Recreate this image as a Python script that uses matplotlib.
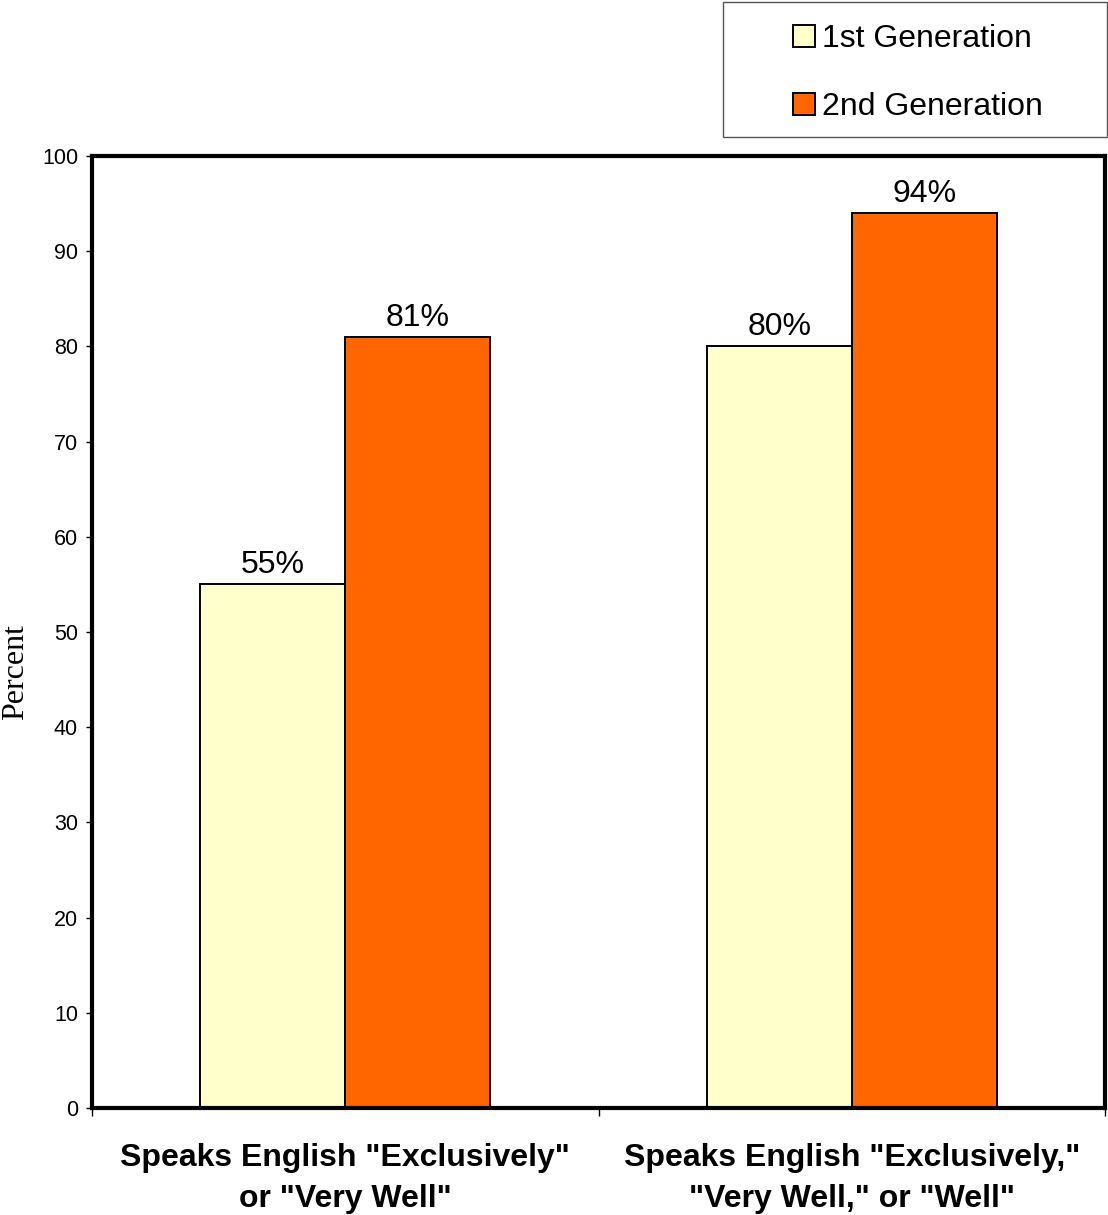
import matplotlib
matplotlib.use("Agg")
import matplotlib.pyplot as plt
from matplotlib.patches import Rectangle
import numpy as np

categories = ['Speaks English "Exclusively"\nor "Very Well"',
              'Speaks English "Exclusively,"\n"Very Well," or "Well"']
series_names = ["1st Generation", "2nd Generation"]
first_gen = [55, 80]
second_gen = [81, 94]
value_labels_first = ["55%", "80%"]
value_labels_second = ["81%", "94%"]
colors = ["#FFFFCC", "#FF6600"]

W, H = 1108, 1215
fig = plt.figure(figsize=(W / 100, H / 100), dpi=100)
plt.rcParams["font.family"] = ["Liberation Sans", "DejaVu Sans"]

left, right, top, bottom = 92, 1105, 156, 1108
ax = fig.add_axes([left / W, 1 - bottom / H, (right - left) / W, (bottom - top) / H])

x = np.arange(len(categories))
bw = 0.286
b1 = ax.bar(x - bw / 2, first_gen, bw, color=colors[0], edgecolor="black",
            linewidth=1.4, label=series_names[0], zorder=2)
b2 = ax.bar(x + bw / 2, second_gen, bw, color=colors[1], edgecolor="black",
            linewidth=1.4, label=series_names[1], zorder=2)

for bars, labels in ((b1, value_labels_first), (b2, value_labels_second)):
    for rect, lab in zip(bars, labels):
        ax.annotate(lab, (rect.get_x() + rect.get_width() / 2, rect.get_height()),
                    xytext=(0, 8), textcoords="offset points",
                    ha="center", va="baseline", fontsize=23)

ax.set_xlim(-0.5, len(categories) - 0.5)
ax.set_ylim(0, 100)
ax.set_yticks(np.arange(0, 101, 10))
ax.tick_params(axis="y", direction="out", length=4, width=1, labelsize=15.5, pad=6)

# category labels at group centres, tick marks at group boundaries
ax.set_xticks(x)
ax.set_xticklabels(categories, fontsize=23, fontweight="bold", linespacing=1.5)
ax.tick_params(axis="x", which="major", length=0, pad=25)
ax.set_xticks(np.arange(-0.5, len(categories)), minor=True)
ax.tick_params(axis="x", which="minor", direction="out", length=6, width=1)

for s in ax.spines.values():
    s.set_linewidth(3)
    s.set_color("black")

fig.text(16 / W, 1 - 672 / H, "Percent", rotation=90, ha="center", va="center",
         fontsize=23, family=["Liberation Serif", "DejaVu Serif"])

# legend box
fig.patches.append(Rectangle((723 / W, 1 - 137 / H), (1107 - 723) / W, (137 - 2) / H,
                             transform=fig.transFigure, facecolor="white",
                             edgecolor="#555555", linewidth=1, zorder=0))
fig.legend(handles=[b1, b2], labels=series_names, loc="upper left",
           bbox_to_anchor=(793 / W, 1 - 24 / H), frameon=False, fontsize=23,
           handlelength=0.7, handleheight=0.7, handletextpad=0.22,
           labelspacing=1.2, borderpad=0, borderaxespad=0)

fig.savefig("out.png", dpi=100)
